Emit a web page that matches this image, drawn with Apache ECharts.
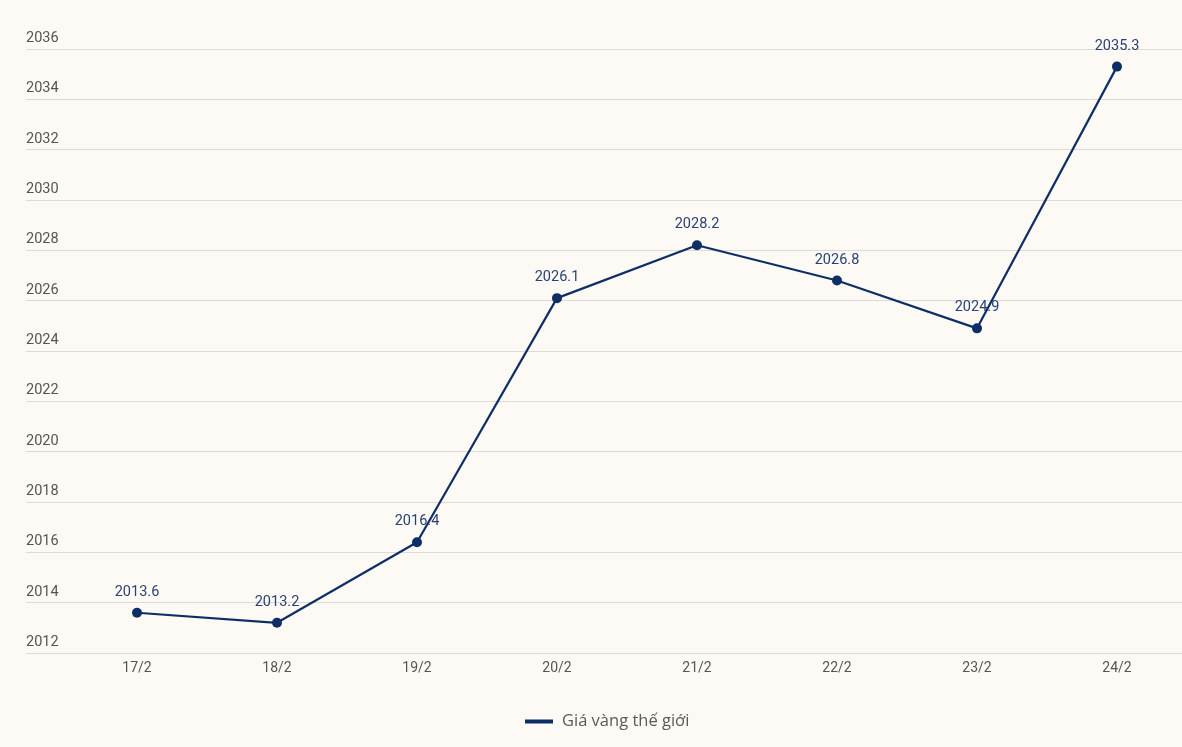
<!DOCTYPE html>
<html>
<head>
<meta charset="utf-8">
<script src="https://cdn.jsdelivr.net/npm/echarts@6/dist/echarts.min.js"></script>
<style>
html,body{margin:0;padding:0;background:#fdf9f5;}
#chart{width:1182px;height:747px;}
</style>
</head>
<body>
<div id="chart"></div>
<script>
const categories = ['17/2','18/2','19/2','20/2','21/2','22/2','23/2','24/2'];
const goldPrice = [2013.6, 2013.2, 2016.4, 2026.1, 2028.2, 2026.8, 2024.9, 2035.3];
const seriesName = 'Giá vàng thế giới';
const yMin = 2012, yMax = 2036, yStep = 2;

const chart = echarts.init(document.getElementById('chart'), null, {renderer:'canvas'});
const font = 'Roboto';
chart.setOption({
  backgroundColor: '#fdf9f5',
  animation: false,
  legend: {
    data: [seriesName],
    left: 520, top: 708,
    itemWidth: 28, itemHeight: 4, itemGap: 10,
    icon: 'rect',
    textStyle: {fontFamily: '"Open Sans"', fontSize: 16.5, color: '#5a5a5a', padding: [0,0,0,4]}
  },
  grid: [
    {left: 26, right: 0, top: 49, bottom: 94, containLabel: false},
    {left: 137, width: 980, top: 49, bottom: 94, containLabel: false}
  ],
  xAxis: [
    {gridIndex: 0, type: 'value', min: 0, max: 1, show: false},
    {gridIndex: 1, type: 'category', data: categories, boundaryGap: false,
     axisLine: {show: false}, axisTick: {show: false}, splitLine: {show: false},
     axisLabel: {fontFamily: font, fontSize: 14, color: '#555', margin: 8}}
  ],
  yAxis: [
    {gridIndex: 0, type: 'value', min: yMin, max: yMax, interval: yStep,
     axisLine: {show: false}, axisTick: {show: false},
     splitLine: {lineStyle: {color: '#dedad6', width: 1}},
     axisLabel: {inside: true, margin: 0, align: 'left', verticalAlign: 'bottom',
       padding: [0,0,3,0], fontFamily: font, fontSize: 14.5, color: '#555',
       formatter: v => String(v)}},
    {gridIndex: 1, type: 'value', min: yMin, max: yMax, interval: yStep, show: false,
     splitLine: {show: false}}
  ],
  series: [{
    name: seriesName, type: 'line', xAxisIndex: 1, yAxisIndex: 1,
    data: goldPrice,
    color: '#0d2f66',
    lineStyle: {width: 2.2, color: '#0d2f66'},
    symbol: 'circle', symbolSize: 10,
    itemStyle: {color: '#0d2f66'},
    label: {show: true, position: 'top', distance: 8,
      fontFamily: font, fontSize: 14.5, color: '#2a4273'}
  }]
});
</script>
</body>
</html>
